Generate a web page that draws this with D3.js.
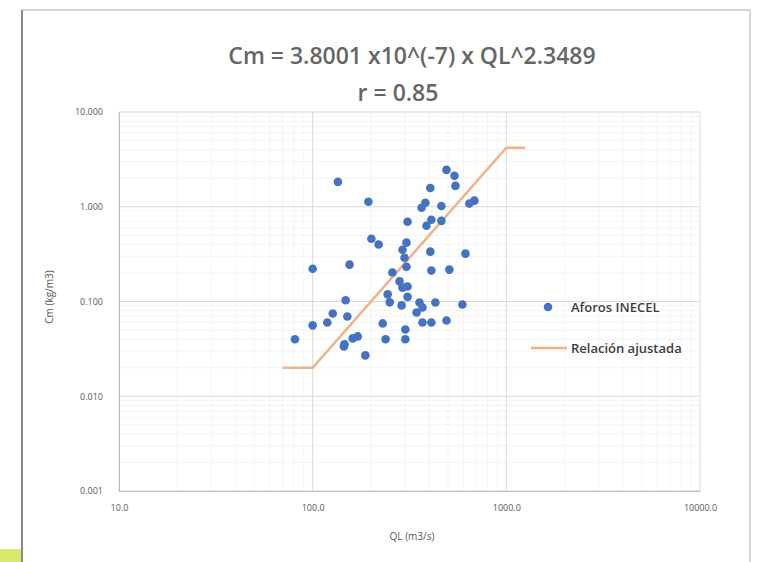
<!DOCTYPE html>
<html lang="es">
<head>
<meta charset="UTF-8">
<title>Cm vs QL</title>
<script src="https://d3js.org/d3.v7.min.js"></script>
<style>
  body { margin: 0; background: #fff; }
  svg { display: block; }
  text { font-family: "Open Sans", "Liberation Sans", sans-serif; }
</style>
</head>
<body>
<div id="chart"></div>
<script>
// measured discharges QL (m3/s) and concentrations Cm (kg/m3)
const aforosQL = [135, 194, 309, 201, 219, 100, 155, 258, 281, 291, 244, 250, 288, 148, 151, 127,
  119, 100, 81, 146, 161, 171, 187, 230, 238, 301, 301, 356, 344, 369, 410, 430, 491, 593, 410,
  508, 615, 405, 405, 382, 365, 462, 387, 410, 462, 491, 540, 546, 644, 684, 305, 291, 298, 305,
  309, 309, 145, 369];
const aforosCm = [1.83, 1.13, 0.695, 0.46, 0.40, 0.222, 0.245, 0.202, 0.163, 0.14, 0.119, 0.098,
  0.091, 0.103, 0.0695, 0.0748, 0.060, 0.056, 0.040, 0.0353, 0.0408, 0.0428, 0.027, 0.0587, 0.040,
  0.0507, 0.040, 0.0976, 0.0766, 0.060, 0.060, 0.0976, 0.063, 0.093, 0.212, 0.217, 0.32, 0.336,
  1.58, 1.10, 0.977, 1.02, 0.63, 0.73, 0.71, 2.45, 2.12, 1.66, 1.08, 1.16, 0.418, 0.352, 0.29,
  0.233, 0.144, 0.112, 0.0336, 0.0865];

// fitted relation
const ajusteQL = [70, 100, 1000, 1250];
const ajusteCm = [0.02, 0.02, 4.2, 4.2];

const xTicks = [10, 100, 1000, 10000];
const yTicks = [0.001, 0.01, 0.1, 1, 10];

const W = 758, H = 562;
const svg = d3.select("#chart").append("svg")
  .attr("width", W).attr("height", H);

// outer chart frame
svg.append("rect")
  .attr("x", 22).attr("y", 10).attr("width", 728).attr("height", 560)
  .attr("fill", "#fff").attr("stroke", "#c8c8c8").attr("stroke-width", 1.5);
svg.append("line")
  .attr("x1", 22).attr("x2", 22).attr("y1", 10).attr("y2", H)
  .attr("stroke", "#8a8a8a").attr("stroke-width", 2);
svg.append("rect")
  .attr("x", 0).attr("y", 549).attr("width", 21).attr("height", 13)
  .attr("fill", "#d9e86a");

const x = d3.scaleLog().domain([10, 10000]).range([119, 700]);
const y = d3.scaleLog().domain([0.001, 10]).range([491, 112]);

// minor gridlines
const minorX = [], minorY = [];
[10, 100, 1000].forEach(d => { for (let k = 2; k < 10; k++) minorX.push(d * k); });
[0.001, 0.01, 0.1, 1].forEach(d => { for (let k = 2; k < 10; k++) minorY.push(d * k); });

svg.append("g").selectAll("line").data(minorX).join("line")
  .attr("x1", d => x(d)).attr("x2", d => x(d))
  .attr("y1", y(10)).attr("y2", y(0.001))
  .attr("stroke", "#f4f4f4").attr("stroke-width", 1);
svg.append("g").selectAll("line").data(minorY).join("line")
  .attr("x1", x(10)).attr("x2", x(10000))
  .attr("y1", d => y(d)).attr("y2", d => y(d))
  .attr("stroke", "#f4f4f4").attr("stroke-width", 1);

// major gridlines
svg.append("g").selectAll("line").data(xTicks).join("line")
  .attr("x1", d => x(d)).attr("x2", d => x(d))
  .attr("y1", y(10)).attr("y2", y(0.001))
  .attr("stroke", "#d9d9d9").attr("stroke-width", 1);
svg.append("g").selectAll("line").data(yTicks).join("line")
  .attr("x1", x(10)).attr("x2", x(10000))
  .attr("y1", d => y(d)).attr("y2", d => y(d))
  .attr("stroke", "#d9d9d9").attr("stroke-width", 1);

// axes (labels only, Excel style)
const xAxis = svg.append("g")
  .attr("transform", `translate(0,${y(0.001)})`)
  .call(d3.axisBottom(x).tickValues(xTicks).tickFormat(d3.format(".1f")).tickSize(0).tickPadding(14));
const yAxis = svg.append("g")
  .attr("transform", `translate(${x(10)},0)`)
  .call(d3.axisLeft(y).tickValues(yTicks).tickFormat(d3.format(".3f")).tickSize(0).tickPadding(16));
[xAxis, yAxis].forEach(a => {
  a.select(".domain").attr("stroke", "#bfbfbf");
  a.selectAll("text").attr("fill", "#595959").attr("font-size", 9)
    .attr("font-family", "'Open Sans', sans-serif");
});

// fitted line
const lineGen = d3.line().x(d => x(d[0])).y(d => y(d[1]));
svg.append("path")
  .datum(ajusteQL.map((q, i) => [q, ajusteCm[i]]))
  .attr("d", lineGen)
  .attr("fill", "none").attr("stroke", "#f4b183").attr("stroke-width", 2.5);

// measured points
svg.append("g").selectAll("circle").data(aforosQL.map((q, i) => [q, aforosCm[i]])).join("circle")
  .attr("cx", d => x(d[0])).attr("cy", d => y(d[1])).attr("r", 4.3)
  .attr("fill", "#4472c4");

// title
svg.append("text").attr("x", 412).attr("y", 64).attr("text-anchor", "middle")
  .attr("font-size", 23).attr("font-weight", 600).attr("fill", "#666")
  .text("Cm = 3.8001 x10^(-7) x QL^2.3489");
svg.append("text").attr("x", 398).attr("y", 101).attr("text-anchor", "middle")
  .attr("font-size", 23).attr("font-weight", 600).attr("fill", "#666")
  .text("r = 0.85");

// axis titles
svg.append("text").attr("x", 412).attr("y", 540).attr("text-anchor", "middle")
  .attr("font-size", 10).attr("fill", "#595959").text("QL (m3/s)");
svg.append("text").attr("transform", "translate(53,297) rotate(-90)").attr("text-anchor", "middle")
  .attr("font-size", 10).attr("fill", "#595959").text("Cm (kg/m3)");

// legend
const legend = svg.append("g");
legend.append("circle").attr("cx", 548).attr("cy", 307).attr("r", 4.3).attr("fill", "#4472c4");
legend.append("text").attr("x", 571).attr("y", 312).attr("font-size", 13).attr("font-weight", 600)
  .attr("fill", "#404040").text("Aforos INECEL");
legend.append("line").attr("x1", 531).attr("x2", 567).attr("y1", 348).attr("y2", 348)
  .attr("stroke", "#f4b183").attr("stroke-width", 2.5);
legend.append("text").attr("x", 571).attr("y", 353).attr("font-size", 13).attr("font-weight", 600)
  .attr("fill", "#404040").text("Relación ajustada");
</script>
</body>
</html>
